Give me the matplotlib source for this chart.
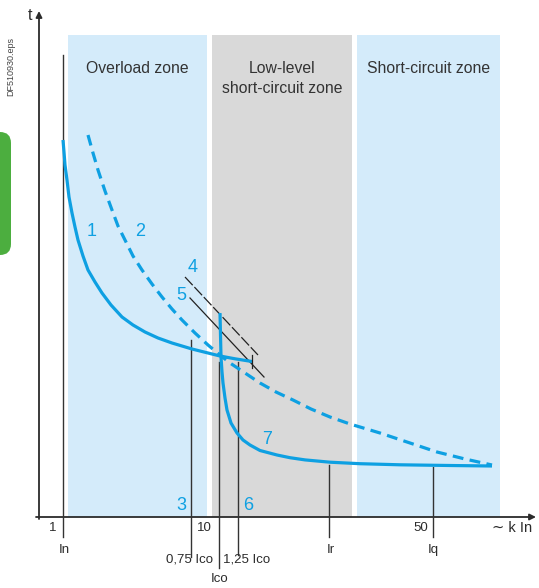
import matplotlib.pyplot as plt
from matplotlib.patches import Rectangle, FancyBboxPatch

plt.rcParams['font.family'] = ['Liberation Sans', 'DejaVu Sans']

# zones (diagram units = pixels of the original drawing)
zone_names = ["Overload zone", "Low-level\nshort-circuit zone", "Short-circuit zone"]
zone_left = [68, 212, 357]
zone_right = [207, 352, 500]
zone_colors = ["#d4ebfa", "#d9d9d9", "#d4ebfa"]

# curve 1: thermal trip curve
curve1_x = [63, 64, 65, 67, 69, 72, 75, 78, 83, 88, 95, 102, 111, 122, 133, 145, 158, 172, 192, 210, 220, 235, 252]
curve1_y = [140, 152, 165, 180, 197, 213, 227, 240, 256, 270, 282, 293, 305, 317, 325, 332, 338, 343, 349, 353.5, 356, 358.8, 361.5]

# curve 2: withstand curve (dashed)
curve2_x = [88, 93, 98, 105, 112, 118, 125, 133, 142, 152, 162, 172, 182, 195, 208, 220, 230, 245, 260, 276, 293, 311, 330, 350, 380, 410, 437, 465, 492]
curve2_y = [135, 153, 170, 191, 210, 226, 240, 256, 270, 284, 297, 309, 320, 333, 345, 355, 363, 373, 383, 392, 400, 409, 417, 424, 433, 443, 452, 459, 465]

# curve 7: magnetic trip curve
curve7_x = [220, 220.5, 221, 222, 223, 225, 227, 231, 237, 243, 250, 260, 277, 290, 305, 330, 360, 400, 450, 492]
curve7_y = [313, 335, 357, 372, 383, 398, 410, 423, 433, 440, 445, 450.5, 455, 457.7, 459.9, 462.2, 463.7, 464.8, 465.5, 466]

# lines 4 and 5
line4 = [(185, 277), (258, 355)]
line5 = [(190, 298), (264, 377)]

# vertical markers: x, top, bottom, label, label x, label y
marker_x = [63, 191, 219, 238, 329, 433]
marker_top = [55, 340, 362, 362, 465, 467]
marker_bottom = [537, 557, 568, 555, 537, 537]
marker_labels = ["In", "0,75 Ico", "Ico", "1,25 Ico", "Ir", "Iq"]
marker_label_x = [64, 189, 220, 247, 331, 433]
marker_label_y = [550, 560, 579, 560, 550, 550]

tick_labels = ["1", "10", "50"]
tick_label_x = [53, 204, 421]

curve_labels = ["1", "2", "3", "4", "5", "6", "7"]
curve_label_x = [92, 140, 181, 193, 181, 248, 267]
curve_label_y = [231, 232, 505, 268, 295, 505, 440]

blue = "#0ea0e2"
dark = "#2b2b2b"

fig = plt.figure(figsize=(5.39, 5.88), dpi=100)
ax = fig.add_axes([0, 0, 1, 1])
ax.set_xlim(0, 539)
ax.set_ylim(588, 0)
ax.axis('off')

for name, l, r, c in zip(zone_names, zone_left, zone_right, zone_colors):
    ax.add_patch(Rectangle((l, 35), r - l, 517 - 35, facecolor=c, edgecolor='none', zorder=0))
    ax.text((l + r) / 2, 61, name, ha='center', va='top', fontsize=11.3, color='#333333',
            linespacing=1.4, zorder=1)

# green tab on the left
ax.add_patch(FancyBboxPatch((-30, 132), 41, 123, boxstyle="round,pad=0,rounding_size=11",
                            facecolor="#4cae3f", edgecolor='none', clip_on=True))
ax.text(11, 66, "DF510930.eps", rotation=90, ha='center', va='center', fontsize=6.5, color='#444444')

# axes with arrows
ax.annotate('', xy=(39, 11), xytext=(39, 519),
            arrowprops=dict(arrowstyle='-|>', lw=1.3, color=dark, mutation_scale=9, shrinkA=0, shrinkB=0))
ax.annotate('', xy=(536, 517), xytext=(36, 517),
            arrowprops=dict(arrowstyle='-|>', lw=1.3, color=dark, mutation_scale=9, shrinkA=0, shrinkB=0))
ax.text(30, 15, "t", ha='center', va='center', fontsize=11.5, color=dark)
ax.text(492, 528, "∼ k In", ha='left', va='center', fontsize=10.5, color=dark)

for x, t, b in zip(marker_x, marker_top, marker_bottom):
    ax.plot([x, x], [t, b], color='#333333', lw=1.0, zorder=3)
for lab, x, y in zip(marker_labels, marker_label_x, marker_label_y):
    ax.text(x, y, lab, ha='center', va='center', fontsize=9.5, color=dark)
for lab, x in zip(tick_labels, tick_label_x):
    ax.text(x, 528, lab, ha='center', va='center', fontsize=9.5, color=dark)

ax.plot([p[0] for p in line4], [p[1] for p in line4], color='#222222', lw=0.9,
        dashes=(9, 2), zorder=3)
ax.plot([p[0] for p in line5], [p[1] for p in line5], color='#222222', lw=0.9, zorder=3)

ax.plot(curve1_x, curve1_y, color=blue, lw=2.3, solid_capstyle='butt', solid_joinstyle='round', zorder=4)
ax.plot([curve1_x[-1], curve1_x[-1]], [355, 368], color='#222222', lw=0.9, zorder=5)
ax.plot(curve2_x, curve2_y, color=blue, lw=2.3, dashes=(3.4, 2.0), zorder=4)
ax.plot(curve7_x, curve7_y, color=blue, lw=2.3, solid_capstyle='butt', solid_joinstyle='round', zorder=4)

for lab, x, y in zip(curve_labels, curve_label_x, curve_label_y):
    ax.text(x, y, lab, ha='center', va='center', fontsize=13, color=blue, zorder=6)

fig.savefig("out.png", dpi=100)
